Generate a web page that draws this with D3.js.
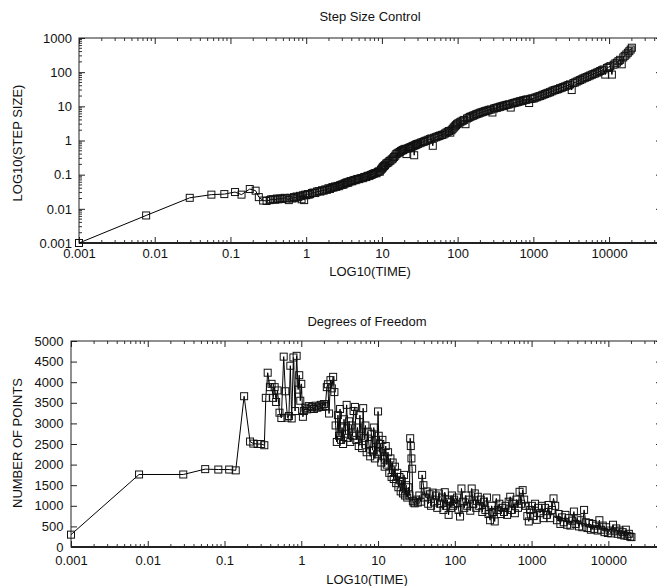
<!DOCTYPE html>
<html>
<script src="https://d3js.org/d3.v7.min.js"></script>
<style>
    body { margin: 0; background: #fff; }
    text { font-family: "Liberation Sans", Arial, sans-serif; font-size: 13px; fill: #111; }
</style>
<body>
<svg width="657" height="586"></svg>
<script>
// time samples shared by both panels
const times = [
    0.001, 0.0077, 0.029, 0.056, 0.083, 0.115, 0.14, 0.18, 0.215, 0.237, 0.27, 0.30, 0.33, 0.345,
    0.365, 0.39, 0.41, 0.43, 0.45, 0.47, 0.49, 0.52, 0.55, 0.59, 0.62, 0.66, 0.69, 0.72, 0.75, 0.79, 0.83, 0.87, 0.91, 0.94, 0.97, 1.0, 1.05,
    1.08, 1.13, 1.19, 1.25, 1.32, 1.39, 1.46, 1.54, 1.62, 1.7, 1.79, 1.88, 1.97, 2.06, 2.15, 2.22, 2.3, 2.4, 2.5, 2.6, 2.7,
    2.8, 2.9, 3.0, 3.1, 3.2, 3.3, 3.4, 3.5, 3.6, 3.75, 3.9, 4.05, 4.2, 4.35, 4.5, 4.65, 4.8, 5.0, 5.2, 5.4,
    5.6, 5.8, 6.0, 6.2, 6.4, 6.6, 6.85, 7.1, 7.35, 7.6, 7.9, 8.2, 8.5, 8.8, 9.1, 9.4, 9.7, 10, 10.2, 10.4,
    10.7, 11.0, 11.4, 11.8, 12.2, 12.6, 13.0, 13.5, 14.0, 14.5, 15.0, 15.5, 16.0, 16.6, 17.2, 17.8, 18.4,
    19.0, 19.7, 20.4, 21.1, 21.8, 22.5, 23.2, 24.0, 24.8, 25.6, 26.2, 26.7, 27.2, 27.8, 28.4, 29.0,
    30, 31.5, 33, 34.5, 36, 37.5, 39, 41, 43, 45, 47, 49, 51.5, 54, 56.5, 59, 62, 65, 68, 71, 74, 77, 80, 83, 86, 89, 92, 95, 98,
    102, 107, 112, 117, 122, 127, 133, 139, 145, 152, 159, 166, 174, 182, 190, 199, 208, 218, 228, 239, 250, 262, 275, 288, 302,
    316, 331, 347, 363, 380, 398, 417, 437, 458, 480, 503, 527, 552, 578, 606, 635, 665, 697, 730, 765, 800, 840, 880, 920, 965,
    1010, 1060, 1110, 1170, 1230, 1290, 1360, 1430, 1500, 1580, 1660, 1750, 1840, 1930, 2030, 2140, 2250, 2370, 2490, 2620, 2760, 2900, 3050,
    3210, 3380, 3560, 3740, 3940, 4150, 4360, 4590, 4830, 5080, 5350, 5630, 5920, 6230, 6560, 6900, 7260, 7640, 8040, 8460, 8900, 9370, 9860,
    10400, 10900, 11500, 12100, 12700, 13300, 14000, 14700, 15400, 16100, 16900, 17700, 18500, 19300, 20000
];

const stepSizes = [
    0.001, 0.0064, 0.021, 0.026, 0.027, 0.031, 0.026, 0.038, 0.034, 0.022, 0.0175, 0.017, 0.018, 0.019,
    0.019, 0.0185, 0.020, 0.019, 0.020, 0.0195, 0.020, 0.021, 0.020, 0.018, 0.021, 0.020, 0.022, 0.021, 0.023, 0.022, 0.024, 0.019, 0.025, 0.018, 0.026, 0.025, 0.027,
    0.026, 0.027, 0.029, 0.030, 0.029, 0.032, 0.033, 0.032, 0.035, 0.034, 0.037, 0.036, 0.040, 0.038, 0.041, 0.043, 0.042, 0.045, 0.044, 0.047, 0.046,
    0.049, 0.050, 0.052, 0.051, 0.055, 0.056, 0.058, 0.060, 0.058, 0.063, 0.065, 0.064, 0.068, 0.070, 0.069, 0.073, 0.075, 0.074, 0.078, 0.080,
    0.079, 0.084, 0.086, 0.085, 0.090, 0.093, 0.092, 0.098, 0.100, 0.104, 0.108, 0.112, 0.110, 0.120, 0.125, 0.123, 0.14, 0.15, 0.16, 0.17,
    0.18, 0.19, 0.21, 0.22, 0.23, 0.25, 0.26, 0.28, 0.30, 0.33, 0.36, 0.40, 0.42, 0.44, 0.46, 0.49, 0.51,
    0.53, 0.55, 0.57, 0.40, 0.58, 0.60, 0.62, 0.64, 0.66, 0.68, 0.70, 0.37, 0.72, 0.74, 0.76, 0.78,
    0.80, 0.83, 0.87, 0.90, 0.93, 0.97, 1.0, 1.05, 1.1, 1.15, 0.70, 1.2, 1.25, 1.3, 1.35, 1.4, 1.45, 1.5, 1.6, 1.7, 1.8, 1.9, 1.7, 2.0, 2.2, 2.4, 2.6, 2.8, 3.0,
    3.2, 3.4, 3.6, 3.8, 4.0, 3.0, 4.4, 4.6, 4.9, 5.1, 5.3, 5.5, 5.8, 6.0, 6.2, 6.5, 6.7, 6.9, 7.2, 7.4, 7.6, 7.9, 8.1, 6.6, 8.6,
    8.9, 9.1, 9.4, 9.7, 10.0, 10.3, 10.6, 10.9, 11.2, 11.5, 9.2, 12.1, 12.5, 12.8, 13.2, 13.6, 14.0, 14.4, 14.8, 15.2, 15.6, 16.0, 12.5, 16.6, 17.0,
    17, 18, 18.5, 19.5, 20, 21, 22, 23, 24, 25, 26, 27.5, 29, 30, 31, 32, 34, 35, 37, 38, 40, 42, 44,
    30, 48, 50, 53, 56, 59, 62, 66, 69, 72, 76, 80, 84, 88, 92, 97, 102, 108, 114, 120, 85, 133, 140,
    150, 85, 165, 180, 190, 210, 230, 170, 270, 300, 330, 370, 410, 460, 520
];

const dofCounts = [
    300, 1760, 1760, 1890, 1880, 1880, 1860, 3660, 2560, 2510, 2500, 2500, 2470, 3620,
    4230, 3880, 3960, 3620, 3880, 3520, 3800, 3260, 3130, 4620, 3780, 3140, 3180, 4400, 3120, 4600, 3300, 4640, 3820, 4170, 3550, 3960, 3160,
    3300, 3380, 3340, 3420, 3360, 3400, 3350, 3430, 3380, 3410, 3450, 3400, 3470, 3420, 3880, 3950, 3240, 4050, 3850, 4130, 3760,
    2950, 2550, 3200, 2700, 3350, 2600, 2900, 2500, 3100, 2750, 3450, 2650, 3050, 2550, 2950, 2700, 3300, 3400, 2600, 2900,
    2450, 3200, 2700, 2400, 3370, 2650, 2950, 2300, 2800, 2500, 2200, 2750, 2350, 2900, 2150, 2600, 2250, 3290, 2700, 2300,
    2500, 2050, 2600, 2200, 1950, 2450, 2000, 2300, 1800, 2150, 1700, 2050, 1650, 1950, 1550, 1800, 1450,
    1700, 1350, 1600, 1300, 1750, 1250, 1500, 1200, 1450, 1250, 2640, 2450, 2150, 1900, 1120, 1080,
    1060, 1150, 1080, 1250, 1100, 1750, 1500, 1200, 1350, 1050, 1280, 1000, 1320, 1080, 1250, 950, 1300, 1050, 1200, 900, 1330, 1000, 1150, 780, 1100, 950, 1250, 1000, 1150,
    1050, 1200, 900, 740, 1420, 1100, 950, 1250, 1000, 1150, 880, 1420, 1050, 1300, 950, 1220, 1000, 1150, 850, 1100, 900, 1200, 800, 650, 1000,
    850, 620, 1180, 900, 1050, 800, 950, 850, 1000, 780, 1100, 1220, 900, 1050, 820, 1150, 950, 1340, 1050, 1380, 1150, 1000, 750, 620, 900,
    1000, 750, 1050, 660, 950, 820, 1000, 700, 950, 780, 1020, 700, 900, 1180, 1000, 650, 800, 560, 720, 600, 780, 540, 700,
    520, 640, 860, 560, 700, 500, 650, 480, 900, 600, 460, 580, 420, 560, 440, 520, 400, 650, 420, 520, 360, 480, 340,
    400, 330, 540, 380, 450, 320, 400, 300, 360, 280, 420, 270, 320, 250, 240
];

const timeTicks = [0.001, 0.01, 0.1, 1, 10, 100, 1000, 10000];
const stepTicks = [0.001, 0.01, 0.1, 1, 10, 100, 1000];
const dofTicks = [0, 500, 1000, 1500, 2000, 2500, 3000, 3500, 4000, 4500, 5000];

const svg = d3.select('svg');

function minorLogTicks(lo, hi) {
    const out = [];
    for (let d = lo; d < hi; d *= 10) {
        for (let k = 2; k <= 9; k++) {
            const v = +(d * k).toPrecision(3);
            if (v < hi) out.push(v);
        }
    }
    return out;
}

function drawPanel(p) {
    const g = svg.append('g');
    const x = d3.scaleLog().domain([0.001, 50000]).range([p.left, p.right]);
    const y = p.yScale.range([p.bottom, p.top]);

    // minor ticks
    const minorX = minorLogTicks(0.001, 50000);
    g.selectAll('.mxb').data(minorX).enter().append('line')
        .attr('x1', d => x(d)).attr('x2', d => x(d))
        .attr('y1', p.bottom).attr('y2', p.bottom - 3)
        .attr('stroke', '#333').attr('stroke-width', 1);
    g.selectAll('.mxt').data(minorX).enter().append('line')
        .attr('x1', d => x(d)).attr('x2', d => x(d))
        .attr('y1', p.top).attr('y2', p.top + 3)
        .attr('stroke', '#333').attr('stroke-width', 1);
    if (p.minorY) {
        const minorY = minorLogTicks(0.001, 1000);
        g.selectAll('.myl').data(minorY).enter().append('line')
            .attr('x1', p.left).attr('x2', p.left + 3)
            .attr('y1', d => y(d)).attr('y2', d => y(d))
            .attr('stroke', '#333').attr('stroke-width', 1);
        g.selectAll('.myr').data(minorY).enter().append('line')
            .attr('x1', p.right).attr('x2', p.right - 3)
            .attr('y1', d => y(d)).attr('y2', d => y(d))
            .attr('stroke', '#333').attr('stroke-width', 1);
    }

    // axes with inward ticks
    const xb = g.append('g').attr('transform', 'translate(0,' + p.bottom + ')')
        .call(d3.axisBottom(x).tickValues(timeTicks).tickFormat(d => String(d)).tickSize(-6).tickPadding(p.xPad));
    const xt = g.append('g').attr('transform', 'translate(0,' + p.top + ')')
        .call(d3.axisTop(x).tickValues(timeTicks).tickFormat('').tickSize(-6));
    const yl = g.append('g').attr('transform', 'translate(' + p.left + ',0)')
        .call(d3.axisLeft(y).tickValues(p.yTicks).tickFormat(d => String(d)).tickSize(-6).tickPadding(p.yPad));
    const yr = g.append('g').attr('transform', 'translate(' + p.right + ',0)')
        .call(d3.axisRight(y).tickValues(p.yTicks).tickFormat('').tickSize(-6));
    [xb, xt, yl, yr].forEach(a => {
        a.select('.domain').remove();
        a.selectAll('line').attr('stroke', '#222');
        a.selectAll('text').attr('font-size', '13px').attr('fill', '#111')
            .attr('font-family', '"Liberation Sans", Arial, sans-serif');
    });

    // border
    g.append('rect').attr('x', p.left).attr('y', p.top)
        .attr('width', p.right - p.left).attr('height', p.bottom - p.top)
        .attr('fill', 'none').attr('stroke', '#222').attr('stroke-width', 1);
    g.append('line').attr('x1', p.left).attr('x2', p.right)
        .attr('y1', p.bottom).attr('y2', p.bottom)
        .attr('stroke', '#222').attr('stroke-width', 2);

    // data line and square markers
    const pts = times.map((t, i) => [t, p.values[i]]);
    g.append('path').datum(pts)
        .attr('fill', 'none').attr('stroke', '#000').attr('stroke-width', 1)
        .attr('d', d3.line().x(d => x(d[0])).y(d => y(d[1])));
    g.selectAll('.pt').data(pts).enter().append('rect')
        .attr('x', d => x(d[0]) - 3.5).attr('y', d => y(d[1]) - 3.5)
        .attr('width', 7).attr('height', 7)
        .attr('fill', 'none').attr('stroke', '#111').attr('stroke-width', 1);

    // titles
    svg.append('text').attr('x', p.titleX).attr('y', p.titleY)
        .attr('text-anchor', 'middle').text(p.title);
    svg.append('text').attr('x', p.titleX).attr('y', p.xLabelY)
        .attr('text-anchor', 'middle').text('LOG10(TIME)');
    svg.append('text').attr('transform', 'translate(22,' + p.yLabelY + ') rotate(-90)')
        .attr('text-anchor', 'middle').text(p.yLabel);
}

drawPanel({
    left: 79, right: 662, top: 38, bottom: 243, xPad: 6, yPad: 7,
    yScale: d3.scaleLog().domain([0.001, 1000]), yTicks: stepTicks, minorY: true,
    values: stepSizes, title: 'Step Size Control', titleX: 370, titleY: 21,
    xLabelY: 276, yLabel: 'LOG10(STEP SIZE)', yLabelY: 143
});

drawPanel({
    left: 71, right: 662, top: 341, bottom: 547, xPad: 9, yPad: 7.5,
    yScale: d3.scaleLinear().domain([0, 5000]), yTicks: dofTicks, minorY: false,
    values: dofCounts, title: 'Degrees of Freedom', titleX: 367, titleY: 326,
    xLabelY: 584, yLabel: 'NUMBER OF POINTS', yLabelY: 443
});
</script>
</body>
</html>
